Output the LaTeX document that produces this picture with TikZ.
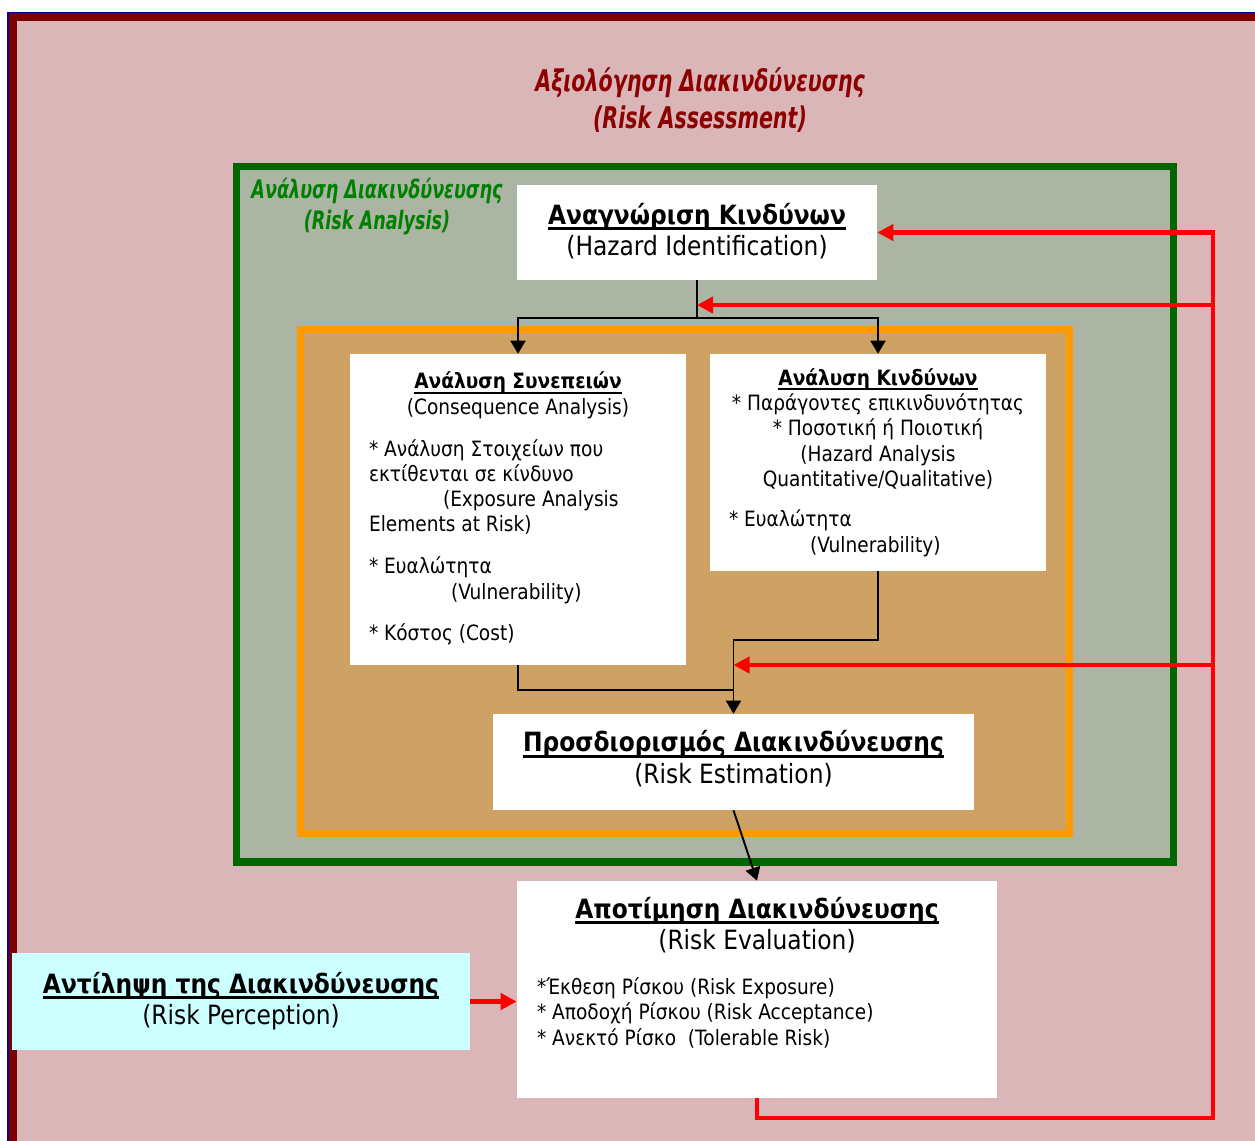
\documentclass[tikz,border=0pt]{standalone}
\usepackage{fontspec}
\setmainfont{DejaVu Sans}[FakeStretch=0.88]
\newfontfamily\titlefont{DejaVu Sans}[FakeStretch=0.69]
\usetikzlibrary{arrows.meta}
\definecolor{framered}{RGB}{125,0,0}
\definecolor{frameblue}{RGB}{0,0,150}
\definecolor{pinkfill}{RGB}{218,182,185}
\definecolor{greenfill}{RGB}{172,180,164}
\definecolor{greenline}{RGB}{0,102,0}
\definecolor{orangefill}{RGB}{206,162,100}
\definecolor{orangeline}{RGB}{255,153,0}
\definecolor{percfill}{RGB}{204,255,255}
\definecolor{titlered}{RGB}{140,0,0}
\definecolor{titlegreen}{RGB}{0,128,0}
\newcommand{\bigtxt}{\fontsize{15.1}{18}\selectfont}
\newcommand{\smalltxt}{\fontsize{12}{14.4}\selectfont}
\newsavebox{\headbox}
\newcommand{\boxhead}[1]{\sbox{\headbox}{\textbf{#1}}\rlap{\rule[-0.22em]{\wd\headbox}{0.1em}}\usebox{\headbox}}
\newcommand{\lline}[2][5.96cm]{\makebox[#1][l]{#2}}
\newcommand{\pushup}[1]{\rule[-#1]{0pt}{0pt}}
\tikzset{
box/.style={fill=white, inner sep=0pt, align=center},
blk/.style={line width=1.1pt, black},
redarr/.style={line width=2.8pt, red, -{Triangle[length=0.32cm,width=0.32cm]}}
}
\begin{document}
\begin{tikzpicture}[x=0.02cm, y=-0.02cm, >={Triangle[length=0.26cm,width=0.3cm]}]
\useasboundingbox (0,0) rectangle (1255,1140);
\fill[white] (0,0) rectangle (1255,1140);
\clip (0,0) rectangle (1255,1140);
%Vẽ khung ngoài
\draw[framered, line width=4.5pt, fill=pinkfill] (13,17) rectangle (1300,1200);
\draw[frameblue, line width=0.9pt] (8,12.5) rectangle (1300,1200);
\draw[greenline, line width=4pt, fill=greenfill] (236.5,166.5) rectangle (1173.5,862);
\draw[orangeline, line width=4pt, fill=orangefill] (300.5,329.5) rectangle (1069.5,833.5);
%Tiêu đề
\node[titlered, align=center, font=\titlefont\bfseries\itshape\fontsize{17}{21.5}\selectfont] (ra) at (700,100)
{Αξιολόγηση Διακινδύνευσης\\(Risk Assessment)};
\node[titlegreen, align=center, font=\titlefont\bfseries\itshape\fontsize{14.5}{17.6}\selectfont] (ran) at (377,207)
{Ανάλυση Διακινδύνευσης\\(Risk Analysis)};
%Vẽ các hộp
\node[box, minimum width=7.2cm, minimum height=1.9cm, font=\bigtxt] (hid) at (697,232.5)
{\boxhead{Αναγνώριση Κινδύνων}\\(Hazard Identification)\pushup{0.12cm}};
\node[box, minimum width=6.72cm, minimum height=6.22cm, font=\smalltxt] (cons) at (518,509.5)
{\boxhead{Ανάλυση Συνεπειών}\\(Consequence Analysis)\\[0.33cm]
\lline{* Ανάλυση Στοιχείων που}\\\lline{εκτίθενται σε κίνδυνο}\\
\lline{\hspace{1.48cm}(Exposure Analysis}\\\lline{Elements at Risk)}\\[0.33cm]
\lline{* Ευαλώτητα}\\\lline{\hspace{1.64cm}(Vulnerability)}\\[0.33cm]
\lline{* Κόστος (Cost)\pushup{0.12cm}}};
\node[box, minimum width=6.72cm, minimum height=4.34cm, font=\smalltxt] (haz) at (878,462.5)
{\boxhead{Ανάλυση Κινδύνων}\\{}* Παράγοντες επικινδυνότητας\\{}* Ποσοτική ή Ποιοτική\\
(Hazard Analysis\\Quantitative/Qualitative)\\[0.3cm]
\lline{* Ευαλώτητα}\\\lline{\hspace{1.62cm}(Vulnerability)}};
\node[box, minimum width=9.62cm, minimum height=1.92cm, font=\bigtxt] (rest) at (733.5,762)
{\boxhead{Προσδιορισμός Διακινδύνευσης}\\(Risk Estimation)\pushup{0.2cm}};
\node[box, minimum width=9.6cm, minimum height=4.34cm, font=\bigtxt] (eval) at (757,989.5)
{\boxhead{Αποτίμηση Διακινδύνευσης}\\(Risk Evaluation)\\[0.26cm]
\parbox[t]{8.8cm}{\smalltxt *Έκθεση Ρίσκου (Risk Exposure)\\{}* Αποδοχή Ρίσκου (Risk Acceptance)\\{}* Ανεκτό Ρίσκο\ \ (Tolerable Risk)\pushup{0.74cm}}};
\node[box, fill=percfill, minimum width=9.16cm, minimum height=1.94cm, font=\bigtxt] (perc) at (241,1001.5)
{\boxhead{Αντίληψη της Διακινδύνευσης}\\(Risk Perception)\pushup{0.12cm}};
%Mũi tên đen
\coordinate (split) at (697,318);
\coordinate (cjoin) at (733.5,690);
\draw[blk] (hid.south) -- (split);
\foreach \b in {cons,haz}
\draw[blk,->] (split) -| (\b.north);
\draw[blk] (cons.south) |- (cjoin);
\draw[blk,->] (haz.south) -- ++(0,69) -| (rest.north);
\draw[blk,->] (rest.south) -- (eval.north);
%Mũi tên đỏ
\coordinate (rbot) at (1213,1118);
\coordinate (fb1) at (1213,305);
\coordinate (fb2) at (1213,665);
\draw[redarr] (eval.south) |- (rbot) |- (hid.east);
\foreach \f/\t in {fb1/split, fb2/cjoin}
\draw[redarr] (\f) -- (\t |- \f);
\draw[redarr] (perc.east) -- (perc.east -| eval.west);
\end{tikzpicture}
\end{document}
